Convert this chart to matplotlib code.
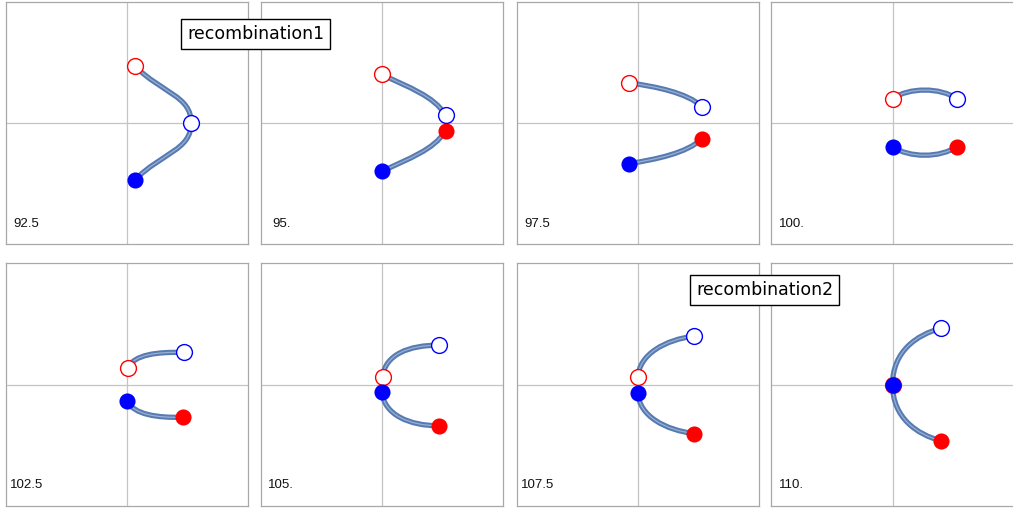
import matplotlib.pyplot as plt
from matplotlib.path import Path
from matplotlib.patches import PathPatch

# frame times shown in the lower left of each panel
times = ['92.5', '95.', '97.5', '100.', '102.5', '105.', '107.5', '110.']

# end points of the two strands per frame
red_open = [(0.13, 0.94), (0.0, 0.80), (-0.14, 0.66), (0.0, 0.40),
            (0.01, 0.27), (0.01, 0.125), (0.0, 0.125), (0.0, 0.0)]
blue_open = [(1.06, 0.0), (1.05, 0.13), (1.06, 0.27), (1.06, 0.40),
             (0.94, 0.53), (0.94, 0.65), (0.93, 0.80), (0.80, 0.93)]
red_filled = [(1.06, 0.0), (1.05, -0.13), (1.06, -0.26), (1.06, -0.39),
              (0.93, -0.54), (0.94, -0.68), (0.93, -0.81), (0.80, -0.93)]
blue_filled = [(0.13, -0.94), (0.0, -0.80), (-0.14, -0.67), (0.0, -0.39),
               (0.0, -0.27), (0.0, -0.13), (0.0, -0.14), (0.0, 0.0)]

# bezier control points: strand a runs red_open -> blue_open,
# strand b runs red_filled -> blue_filled
strand_a_ctrl = [[(0.58, 0.49), (1.06, 0.45)],
                 [(0.45, 0.58), (0.85, 0.45)],
                 [(0.3, 0.6), (0.8, 0.5)],
                 [(0.27, 0.59), (0.79, 0.59)],
                 [(0.12, 0.5), (0.5, 0.54)],
                 [(0.05, 0.5), (0.45, 0.65)],
                 [(0.02, 0.5), (0.45, 0.74)],
                 [(0.0, 0.55), (0.4, 0.82)]]
strand_b_ctrl = [[(1.06, -0.45), (0.58, -0.49)],
                 [(0.85, -0.45), (0.45, -0.58)],
                 [(0.8, -0.5), (0.3, -0.6)],
                 [(0.79, -0.58), (0.27, -0.58)],
                 [(0.5, -0.55), (0.12, -0.5)],
                 [(0.45, -0.68), (0.04, -0.5)],
                 [(0.45, -0.75), (0.02, -0.52)],
                 [(0.4, -0.82), (0.0, -0.55)]]

labels = ['recombination1', 'recombination2']
label_pos = [(255.5, 34), (764.5, 290)]

W, H = 1013, 513
col_left = [5.7, 260.7, 516.7, 771.3]
row_top = [1.7, 263.3]
size = 242.5

fig = plt.figure(figsize=(W / 100, H / 100), dpi=100)


def draw_strand(ax, p0, ctrl, p3):
    verts = [p0, ctrl[0], ctrl[1], p3]
    codes = [Path.MOVETO, Path.CURVE4, Path.CURVE4, Path.CURVE4]
    path = Path(verts, codes)
    ax.add_patch(PathPatch(path, facecolor='none', edgecolor='#577ab1',
                           lw=3.8, capstyle='round', zorder=2))
    ax.add_patch(PathPatch(path, facecolor='none', edgecolor='#98b0d5',
                           lw=0.9, capstyle='round', zorder=2.1))


for i, t in enumerate(times):
    r, c = divmod(i, 4)
    left = col_left[c] / W
    bottom = 1 - (row_top[r] + size) / H
    ax = fig.add_axes([left, bottom, size / W, size / H])
    ax.set_xlim(-2, 2)
    ax.set_ylim(-2, 2)
    ax.set_xticks([])
    ax.set_yticks([])
    for sp in ax.spines.values():
        sp.set_color('#a8a8a8')
        sp.set_linewidth(0.9)
    ax.axhline(0, color='#c4c4c4', lw=0.9, zorder=1)
    ax.axvline(0, color='#c4c4c4', lw=0.9, zorder=1)

    draw_strand(ax, red_open[i], strand_a_ctrl[i], blue_open[i])
    draw_strand(ax, red_filled[i], strand_b_ctrl[i], blue_filled[i])

    ax.plot(*red_filled[i], 'o', ms=11.6, mfc='red', mew=0, zorder=3)
    ax.plot(*red_open[i], 'o', ms=11.4, mfc='white', mec='red', mew=1, zorder=3)
    ax.plot(*blue_filled[i], 'o', ms=11.6, mfc='blue', mew=0, zorder=3)
    ax.plot(*blue_open[i], 'o', ms=11.4, mfc='white', mec='blue', mew=1, zorder=3)

    ax.text(0.085, 0.084, t, transform=ax.transAxes, ha='center', va='center',
            fontsize=9.5, family='Liberation Sans', color='#111111')

for text, (x, y) in zip(labels, label_pos):
    fig.text(x / W, 1 - y / H, text, ha='center', va='center', fontsize=12.5,
             family='DejaVu Sans', color='black', zorder=10,
             bbox=dict(boxstyle='square,pad=0.32', facecolor='white',
                       edgecolor='black', linewidth=1))

fig.savefig('out.png', dpi=100)
